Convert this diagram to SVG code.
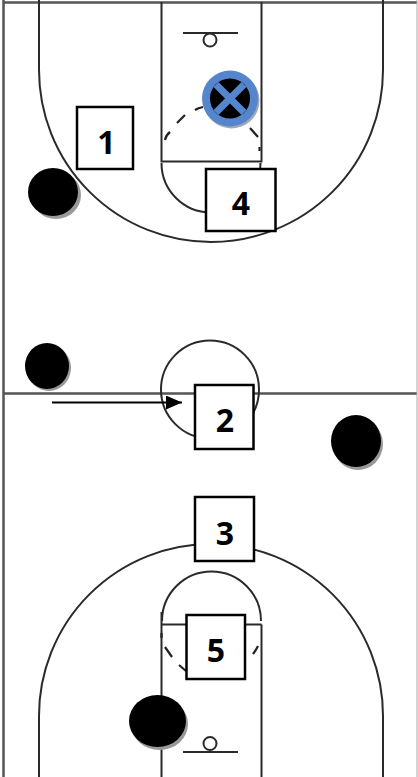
<svg xmlns="http://www.w3.org/2000/svg" width="418" height="777" viewBox="0 0 418 777">
<defs>
<style>
.court{fill:none;stroke:#2a2a2a;stroke-width:2}
.edge{fill:none;stroke:#555;stroke-width:2.5}
.dash{fill:none;stroke:#222;stroke-width:2.2}
.box{fill:#fff;stroke:#000;stroke-width:2.500}
.num{font-family:"Open Sans","Liberation Sans",sans-serif;font-weight:700;font-size:32px;text-anchor:middle;fill:#000}
.shadow{fill:#999}
.player{fill:#000}
</style>
<marker id="head" markerWidth="16" markerHeight="14" refX="16" refY="7" markerUnits="userSpaceOnUse" orient="auto"><path d="M0 0L16 7L0 14Z" fill="#000"/></marker>
</defs>
<rect width="418" height="777" fill="#fff"/>
<g id="court">
<path class="edge" d="M3.500 777V0M3 2.500H417M3 393.500H417"/>
<path d="M417 0V777" fill="none" stroke="#aaa" stroke-width="1"/>
<path class="court" d="M39 0V70A172 172 0 0 0 383 70V0"/>
<path class="court" d="M39 777V716A172 172 0 0 1 383 716V777"/>
<path class="court" d="M161.500 2V161.500H261.500V2"/>
<path class="court" d="M161.500 163A49.500 49.500 0 0 0 260.500 163"/>
<path class="dash" d="M165 140Q166 135 170 132M177 123L185 115M195 110Q198 108 203 107M250 128L258 137M259.500 147V151"/>
<path class="court" d="M183 33H238"/>
<circle class="court" cx="210" cy="40" r="6.500"/>
<circle class="court" cx="210" cy="389.500" r="49"/>
<path class="court" d="M161.500 777V612M161.500 624.500H261.500M261.500 777V624.500"/>
<path class="court" d="M162 621A49.500 49.500 0 0 1 261 621"/>
<path class="dash" d="M161.500 633V638M165 647L172 657M179 665L186 671M253 654Q256 650 258 646"/>
<path class="court" d="M183 752H238"/>
<circle class="court" cx="210" cy="743.500" r="6.500"/>
</g>
<g id="connectors">
<path d="M52 402.500H182" fill="none" stroke="#000" stroke-width="2" marker-end="url(#head)"/>
</g>
<g id="player-top-left"><ellipse class="shadow" cx="56" cy="195" rx="25" ry="24"/><ellipse class="player" cx="53" cy="192" rx="25" ry="24"/></g>
<g id="player-mid-left"><ellipse class="shadow" cx="49" cy="368" rx="22" ry="23"/><ellipse class="player" cx="47" cy="366" rx="22" ry="23"/></g>
<g id="player-mid-right"><ellipse class="shadow" cx="358" cy="444" rx="25" ry="26"/><ellipse class="player" cx="356" cy="441" rx="25" ry="26"/></g>
<g id="player-bottom"><ellipse class="shadow" cx="159.500" cy="724" rx="28.500" ry="26"/><ellipse class="player" cx="157.500" cy="721" rx="28.500" ry="26"/></g>
<g id="ball">
<circle cx="231.500" cy="100.500" r="28" fill="#a0a8b4"/>
<circle cx="230" cy="98.500" r="28" fill="#5585cc"/>
<circle cx="230" cy="98.500" r="20" fill="#000"/>
<path d="M216 84.500L244 112.500M244 84.500L216 112.500" stroke="#5585cc" stroke-width="7" fill="none"/>
</g>
<g id="box-1"><rect class="box" x="77" y="107" width="56" height="62"/><text class="num" x="106.500" y="154">1</text></g>
<g id="box-4"><rect class="box" x="206" y="169" width="69.500" height="62"/><text class="num" x="241" y="215">4</text></g>
<g id="box-2"><rect class="box" x="195" y="385" width="58.500" height="64"/><text class="num" x="225" y="432">2</text></g>
<g id="box-3"><rect class="box" x="195" y="497" width="59" height="64"/><text class="num" x="225" y="545">3</text></g>
<g id="box-5"><rect class="box" x="186.500" y="615" width="58.500" height="64"/><text class="num" x="216" y="662">5</text></g>
</svg>
